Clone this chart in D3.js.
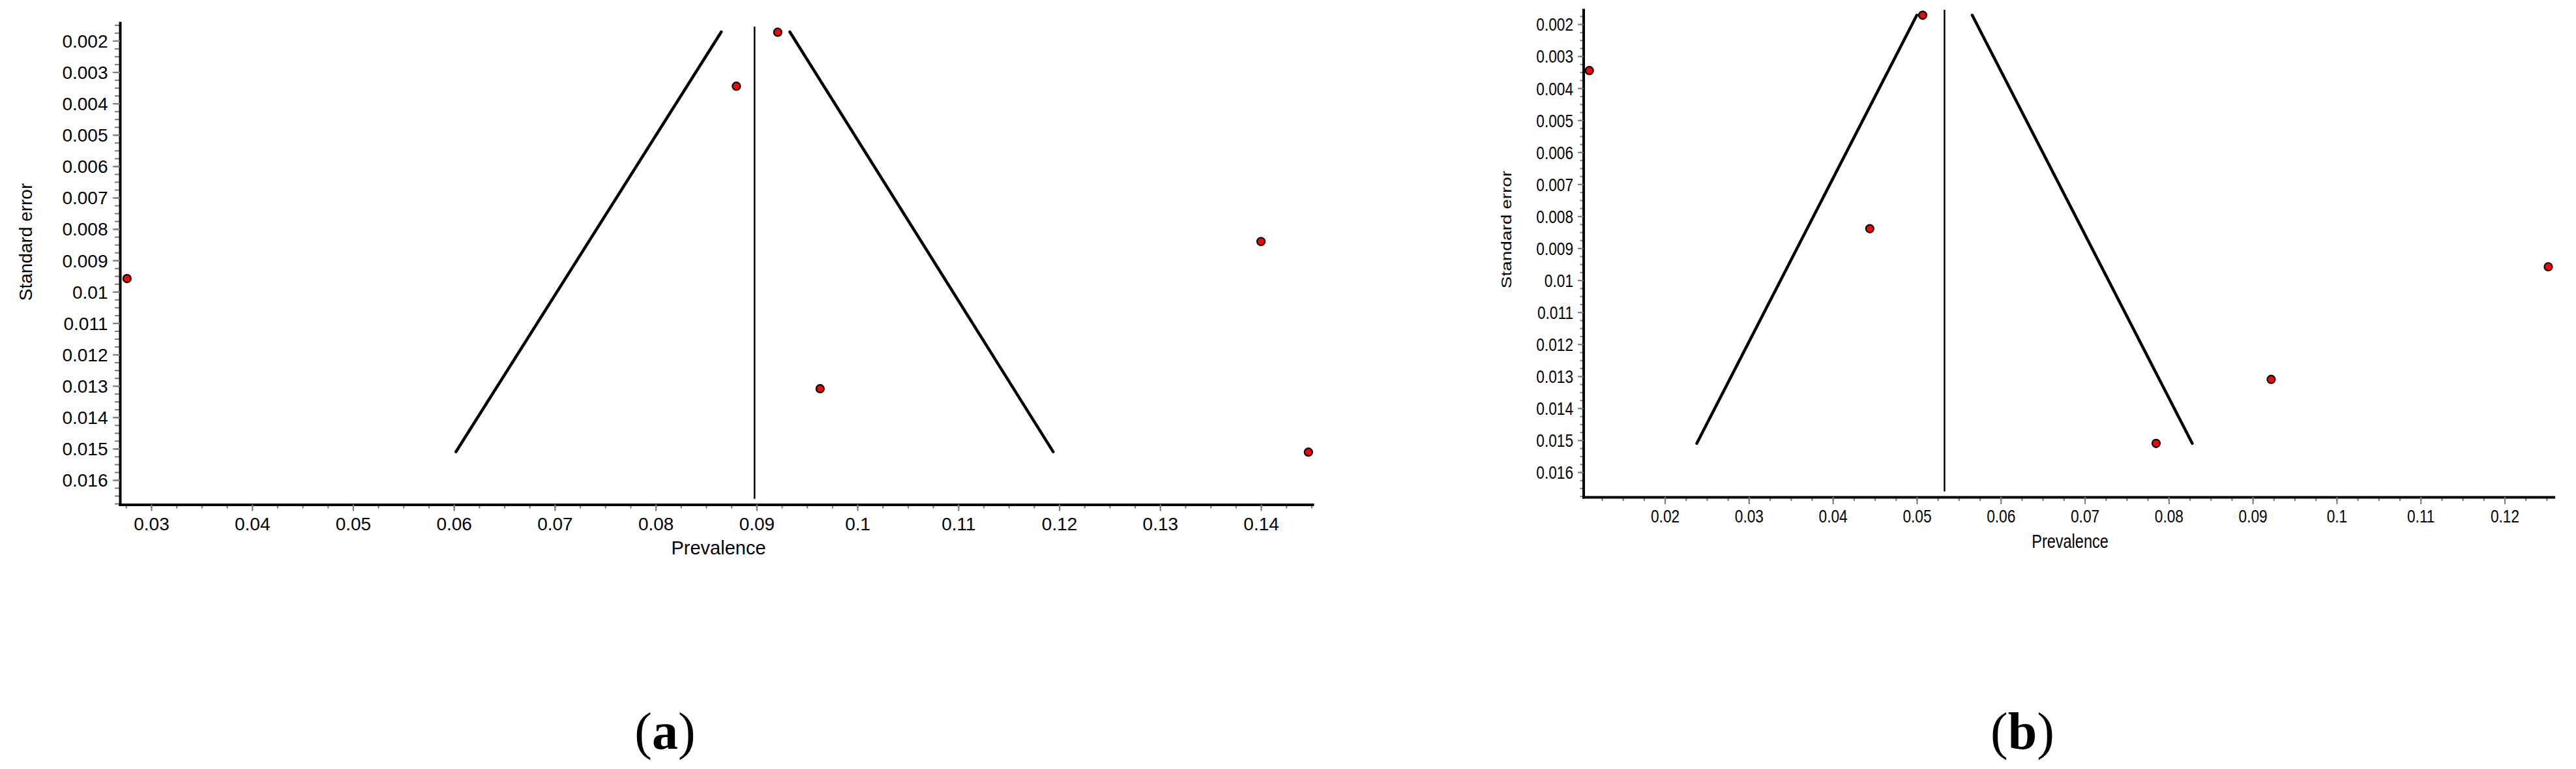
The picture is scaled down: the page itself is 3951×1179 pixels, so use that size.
<!DOCTYPE html>
<html>
<head>
<meta charset="utf-8">
<script src="https://cdnjs.cloudflare.com/ajax/libs/d3/7.8.5/d3.min.js"></script>
<style>
  body { margin: 0; background: #ffffff; }
  svg { display: block; background: #ffffff; }
  text { font-family: "Liberation Sans", Arial, sans-serif; fill: #000; }
  .caption { font-family: "Liberation Serif", "Times New Roman", serif; }
  .dot { fill: #ff0000; stroke: #000; stroke-width: 2.2; }
  .funnel { fill: none; stroke: #000; stroke-width: 4.5; stroke-linecap: round; }
  .pooled { stroke: #000; stroke-width: 2.5; }
</style>
</head>
<body>
<svg id="canvas" width="3951" height="1179"></svg>
<script>
  // study estimates (prevalence, standard error)
  const prevA = [0.0921, 0.0880, 0.0276, 0.1400, 0.0963, 0.1447];
  const seA   = [0.00173, 0.00345, 0.00958, 0.0084, 0.01309, 0.01511];
  const prevB = [0.0507, 0.0110, 0.0444, 0.1252, 0.0922, 0.0785];
  const seB   = [0.00172, 0.00345, 0.00839, 0.00958, 0.0131, 0.0151];

  // pooled estimate and funnel limits
  const pooledA = 0.0898;
  const pooledB = 0.0533;
  const pooledSpan = [0.00155, 0.0166];
  const funnelSe = [0.00172, 0.0151];
  const funnelLowA = [0.0865, 0.0602];
  const funnelHighA = [0.0933, 0.1194];
  const funnelLowB = [0.0500, 0.0238];
  const funnelHighB = [0.0566, 0.0828];

  // tick labels
  const yTicks = [0.002, 0.003, 0.004, 0.005, 0.006, 0.007, 0.008, 0.009, 0.01,
                  0.011, 0.012, 0.013, 0.014, 0.015, 0.016];
  const xTicksA = [0.03, 0.04, 0.05, 0.06, 0.07, 0.08, 0.09, 0.1, 0.11, 0.12, 0.13, 0.14];
  const xTicksB = [0.02, 0.03, 0.04, 0.05, 0.06, 0.07, 0.08, 0.09, 0.1, 0.11, 0.12];
  const yTitle = "Standard error";
  const xTitle = "Prevalence";
  const captions = ["a", "b"];

  let svg = d3.select("svg");

  const panels = [
    { prev: prevA, se: seA, pooled: pooledA, low: funnelLowA, high: funnelHighA, xTicks: xTicksA,
      xDomain: [0.0269, 0.1451], yDomain: [0.00143, 0.01678],
      left: 184, right: 2013, top: 35, bottom: 773.5, squeeze: 1,
      yTick: [11, 8], xTick: [10, 6], labelGap: 18.5,
      titleX: 49, titleY: 371, xTitleX: 1102, xTitleY: 850, captionX: 1020 },
    { prev: prevB, se: seB, pooled: pooledB, low: funnelLowB, high: funnelHighB, xTicks: xTicksB,
      xDomain: [0.01029, 0.12583], yDomain: [0.00155, 0.016775],
      left: 2428.5, right: 3916.6, top: 15, bottom: 762, squeeze: 0.81,
      yTick: [8.5, 5], xTick: [11, 6], labelGap: 15.5,
      titleX: 2318, titleY: 352, xTitleX: 3175, xTitleY: 840, captionX: 3102 }
  ];

  panels.forEach((p, i) => drawPanel(p, captions[i]));

  function drawPanel(p, caption) {
    const x = d3.scaleLinear().domain(p.xDomain).range([p.left, p.right]);
    const y = d3.scaleLinear().domain(p.yDomain).range([p.top, p.bottom]);
    const g = svg.append("g");

    // funnel limits
    const line = d3.line().x(d => x(d[0])).y(d => y(d[1]));
    [p.low, p.high].forEach(lim => {
      g.append("path")
        .attr("class", "funnel")
        .attr("d", line(lim.map((v, k) => [v, funnelSe[k]])));
    });

    // pooled estimate
    g.append("line")
      .attr("class", "pooled")
      .attr("x1", x(p.pooled)).attr("x2", x(p.pooled))
      .attr("y1", y(pooledSpan[0])).attr("y2", y(pooledSpan[1]));

    // studies
    g.selectAll("circle.dot")
      .data(p.prev.map((v, k) => ({ prev: v, se: p.se[k] })))
      .join("circle")
      .attr("class", "dot")
      .attr("cx", d => x(d.prev))
      .attr("cy", d => y(d.se))
      .attr("r", 6);

    // axes: minor ticks first, then major ticks with labels
    const minorY = d3.range(0.0015, p.yDomain[1], 0.00025).filter(v => v >= p.yDomain[0]);
    const minorX = d3.range(0.0025, p.xDomain[1] + 1e-9, 0.0025).filter(v => v >= p.xDomain[0]);

    const gyMinor = g.append("g").attr("transform", `translate(${p.left},0)`)
      .call(d3.axisLeft(y).tickValues(minorY).tickSize(p.yTick[1]).tickSizeOuter(0).tickFormat(""));
    gyMinor.select(".domain").remove();
    const gxMinor = g.append("g").attr("transform", `translate(0,${p.bottom})`)
      .call(d3.axisBottom(x).tickValues(minorX).tickSize(p.xTick[1]).tickSizeOuter(0).tickFormat(""));
    gxMinor.select(".domain").remove();

    const gy = g.append("g").attr("transform", `translate(${p.left},0)`)
      .call(d3.axisLeft(y).tickValues(yTicks).tickSize(p.yTick[0]).tickSizeOuter(0).tickFormat(d => String(d)));
    const gx = g.append("g").attr("transform", `translate(0,${p.bottom})`)
      .call(d3.axisBottom(x).tickValues(p.xTicks).tickSize(p.xTick[0]).tickSizeOuter(0).tickFormat(d => String(d)));

    g.selectAll(".tick line").attr("stroke", "#808080").attr("stroke-width", 2.2);
    [gy, gx].forEach(a => a.select(".domain")
      .attr("stroke", "#000").attr("stroke-width", 4).attr("stroke-linecap", "square"));

    gy.selectAll(".tick text")
      .attr("font-size", 28).attr("font-family", null)
      .attr("x", -p.labelGap / p.squeeze).attr("dy", "0.35em")
      .attr("transform", `scale(${p.squeeze},1)`);
    gx.selectAll(".tick text")
      .attr("font-size", 28).attr("font-family", null)
      .attr("y", 39).attr("dy", 0)
      .attr("transform", `scale(${p.squeeze},1)`);

    // axis titles
    svg.append("text")
      .attr("transform", `translate(${p.titleX},${p.titleY}) scale(${p.squeeze},1) rotate(-90)`)
      .attr("text-anchor", "middle")
      .attr("font-size", 28)
      .text(yTitle);
    svg.append("text")
      .attr("transform", `translate(${p.xTitleX},${p.xTitleY}) scale(${p.squeeze},1)`)
      .attr("text-anchor", "middle")
      .attr("font-size", 29)
      .text(xTitle);

    // panel caption
    const cap = svg.append("text")
      .attr("class", "caption")
      .attr("x", p.captionX).attr("y", 1148)
      .attr("text-anchor", "middle")
      .attr("font-size", 80);
    cap.append("tspan").text("(");
    cap.append("tspan").attr("font-weight", "bold").text(caption);
    cap.append("tspan").text(")");
  }
</script>
</body>
</html>
